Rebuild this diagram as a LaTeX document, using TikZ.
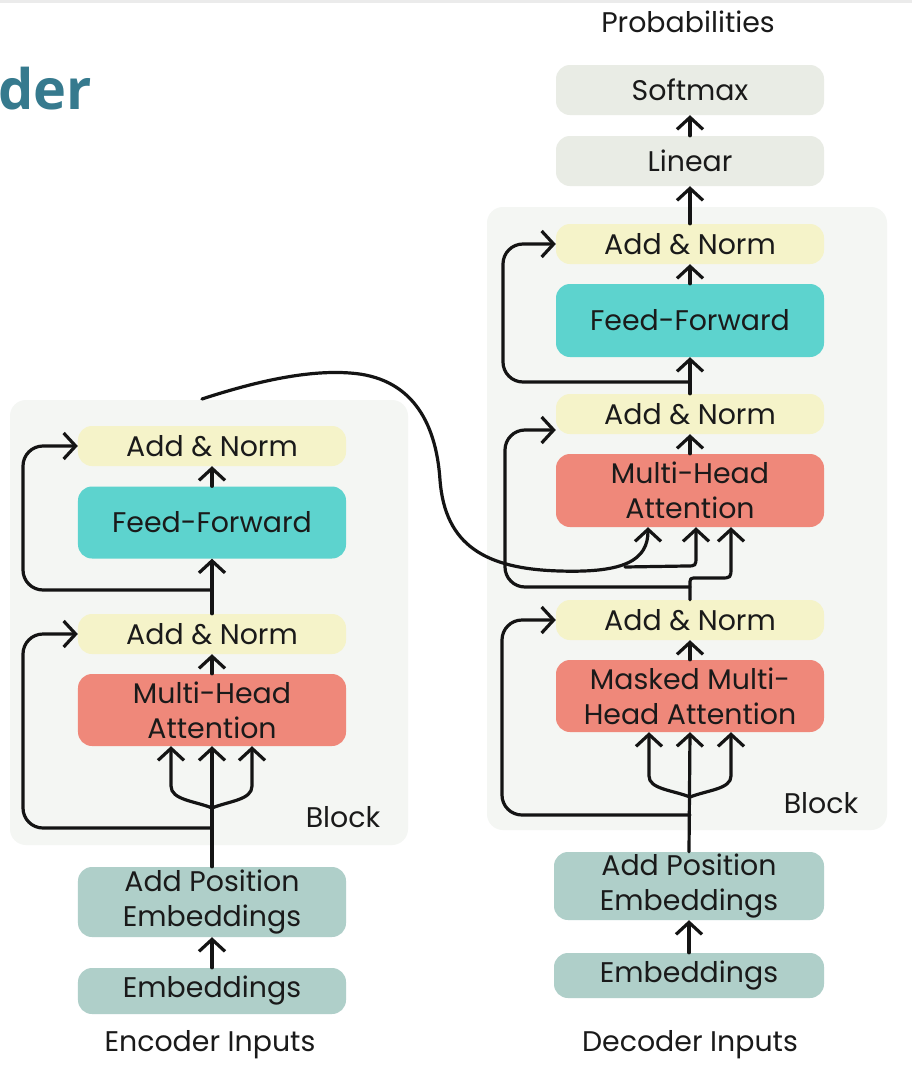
\documentclass[tikz,border=0pt]{standalone}
\usepackage{fontspec}
\setmainfont{Poppins}
\newfontfamily\titlefont{Open Sans}
\usetikzlibrary{arrows.meta,calc}
\definecolor{txt}{HTML}{1A1A1A}
\definecolor{blockbg}{HTML}{F4F6F3}
\definecolor{yel}{HTML}{F5F3C9}
\definecolor{ffc}{HTML}{5DD3CE}
\definecolor{att}{HTML}{EF887A}
\definecolor{emb}{HTML}{AFCFC9}
\definecolor{grayb}{HTML}{E9ECE5}
\definecolor{titlec}{HTML}{367A8E}
\tikzset{
  box/.style={rectangle, rounded corners=14bp, minimum width=268bp, inner sep=0pt, text=txt,
    font=\fontsize{28.5}{35}\selectfont, align=center, draw=none},
  lab/.style={inner sep=0pt, text=txt, font=\fontsize{28.5}{35}\selectfont},
  ln/.style={line width=3.2bp, draw=black!92, line cap=round, line join=round},
  arr/.style={ln, -{Straight Barb[length=12bp,width=26bp]}},
}
\begin{document}
\begin{tikzpicture}[x=1bp,y=-1bp]
\useasboundingbox (0,0) rectangle (912,1072);
\fill[white] (0,0) rectangle (912,1072);
\fill[black!8] (0,0) rectangle (912,3);
% title fragment
\node[anchor=base west, inner sep=0pt, text=titlec, font=\titlefont\bfseries\fontsize{56}{56}\selectfont] (title) at (-2,109) {der};
% block backgrounds
\fill[blockbg, rounded corners=16bp] (10,400) rectangle (408,845);
\fill[blockbg, rounded corners=16bp] (487,207) rectangle (887,830);
% encoder nodes
\node[box, fill=yel, minimum height=40bp] (eAN2) at (212,446) {Add \& Norm};
\node[box, fill=ffc, minimum height=72bp] (eFF) at (212,522.5) {Feed-Forward};
\node[box, fill=yel, minimum height=40bp] (eAN1) at (212,634) {Add \& Norm};
\node[box, fill=att, minimum height=72bp] (eMHA) at (212,710) {Multi-Head\\Attention};
\node[box, fill=emb, minimum height=70bp] (ePos) at (212,902) {Add Position\\Embeddings};
\node[box, fill=emb, minimum height=46bp] (eEmb) at (212,991) {Embeddings};
\node[lab] (eIn) at (210,1045) {Encoder Inputs};
\node[lab] (eBlk) at (343,817) {Block};
% decoder nodes
\node[lab] (prob) at (688,22) {Probabilities};
\node[box, fill=grayb, minimum height=50bp] (dSoft) at (690,90) {Softmax};
\node[box, fill=grayb, minimum height=50bp] (dLin) at (690,161) {Linear};
\node[box, fill=yel, minimum height=40bp] (dAN3) at (690,244) {Add \& Norm};
\node[box, fill=ffc, minimum height=73bp] (dFF) at (690,320.5) {Feed-Forward};
\node[box, fill=yel, minimum height=40bp] (dAN2) at (690,414) {Add \& Norm};
\node[box, fill=att, minimum height=73bp] (dMHA) at (690,490.5) {Multi-Head\\Attention};
\node[box, fill=yel, minimum height=40bp] (dAN1) at (690,620) {Add \& Norm};
\node[box, fill=att, minimum height=72bp] (dMMHA) at (690,696) {Masked Multi-\\Head Attention};
\node[box, fill=emb, minimum height=68bp, minimum width=270bp] (dPos) at (689,886) {Add Position\\Embeddings};
\node[box, fill=emb, minimum height=45bp, minimum width=270bp] (dEmb) at (689,975.5) {Embeddings};
\node[lab] (dIn) at (690,1045) {Decoder Inputs};
\node[lab] (dBlk) at (821,803) {Block};
% encoder connectors
\coordinate (eR1) at (212,828);
\coordinate (eBr) at (212,808);
\coordinate (eR2) at (212,590);
\draw[arr] (eEmb.north) -- (ePos.south);
\draw[arr] (ePos.north) -- (eMHA.south);
\draw[arr] (eBr) .. controls (195,801) and (171,800) .. (171,786) -- ([xshift=-41bp]eMHA.south);
\draw[arr] (eBr) .. controls (229,801) and (252,800) .. (252,786) -- ([xshift=40bp]eMHA.south);
\draw[arr, rounded corners=20bp] (eR1) -| (23,634) -- (eAN1.west);
\draw[arr] (eMHA.north) -- (eAN1.south);
\draw[arr] (eAN1.north) -- (eFF.south);
\draw[arr, rounded corners=20bp] (eR2) -| (23,446) -- (eAN2.west);
\draw[arr] (eFF.north) -- (eAN2.south);
% decoder connectors
\coordinate (dR1) at (690,815);
\coordinate (dBr) at (690,797);
\coordinate (dR2) at (690,587);
\coordinate (dR3) at (690,382);
\coordinate (dAN2in) at ([yshift=-16bp]dAN2.west);
\draw[arr] (dEmb.north) -- (dPos.south);
\draw[arr] (dPos.north) -- (dMMHA.south);
\draw[arr] (dBr) .. controls (672,790) and (649,789) .. (649,776) -- ([xshift=-41bp]dMMHA.south);
\draw[arr] (dBr) .. controls (708,790) and (731,789) .. (731,776) -- ([xshift=41bp]dMMHA.south);
\draw[arr, rounded corners=20bp] (dR1) -| (502,620) -- (dAN1.west);
\draw[arr] (dMMHA.north) -- (dAN1.south);
\draw[arr] (dAN1.north) -- (690,585) .. controls (690,578) .. (697,578) -- (720,578) .. controls (731,578) .. (731,567) -- ([xshift=41bp]dMHA.south);
\draw[arr, rounded corners=20bp] (dR2) -| (505,430) -- (dAN2in);
\draw[arr] (dMHA.north) -- (dAN2.south);
\draw[arr] (dAN2.north) -- (dFF.south);
\draw[arr, rounded corners=20bp] (dR3) -| (503,244) -- (dAN3.west);
\draw[arr] (dFF.north) -- (dAN3.south);
\draw[arr] (dAN3.north) -- (dLin.south);
\draw[arr] (dLin.north) -- (dSoft.south);
% cross connection from encoder output
\coordinate (encOut) at (202,399);
\coordinate (kvSplit) at (625,567);
\draw[arr] (encOut) .. controls (260,380) and (310,370) .. (350,373)
  .. controls (410,377) and (436,420) .. (440,480)
  .. controls (445,545) and (485,569) .. (560,571)
  .. controls (625,573) and (648,560) .. ([xshift=-42bp]dMHA.south);
\draw[arr] (kvSplit) -- (686,566) .. controls (696,566) .. (696,556) -- ([xshift=6bp]dMHA.south);
\end{tikzpicture}
\end{document}
